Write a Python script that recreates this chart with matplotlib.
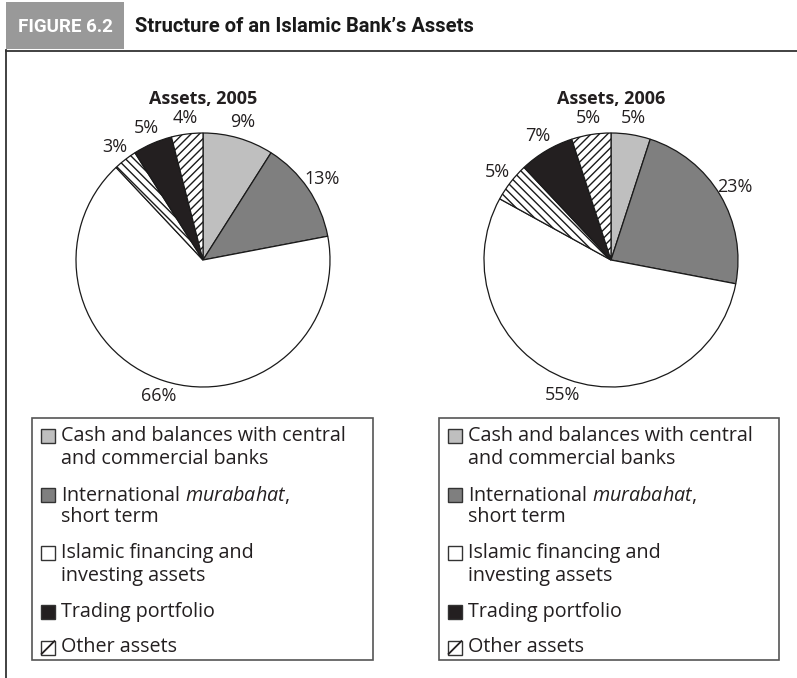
import matplotlib.pyplot as plt
from matplotlib.patches import Rectangle

plt.rcParams['font.family'] = ['Open Sans', 'DejaVu Sans']
plt.rcParams['mathtext.fontset'] = 'custom'
plt.rcParams['mathtext.rm'] = 'Open Sans'
plt.rcParams['mathtext.it'] = 'Open Sans:italic'
plt.rcParams['hatch.linewidth'] = 1.0

# data
years = ['2005', '2006']
shares_2005 = [9, 13, 66, 3, 5, 4]
shares_2006 = [5, 23, 55, 5, 7, 5]
slice_colors = ['#bfbfbf', '#7f7f7f', 'white', 'white', '#231f20', 'white']
slice_hatches = ['', '', '', '\\\\\\\\', '', '////']
legend_labels = [
    ['Cash and balances with central', 'and commercial banks'],
    ['International $\\mathit{murabahat}$,', 'short term'],
    ['Islamic financing and', 'investing assets'],
    ['Trading portfolio'],
    ['Other assets'],
]
legend_slices = [0, 1, 2, 4, 5]   # 4th slice has no legend entry

W, H = 797, 678
fig = plt.figure(figsize=(W / 100, H / 100), dpi=100)
bg = fig.add_axes([0, 0, 1, 1])
bg.set_xlim(0, W)
bg.set_ylim(H, 0)
bg.axis('off')

# header
narrow = ['Roboto', 'DejaVu Sans']
bg.add_patch(Rectangle((6, 2), 118, 47, fc='#999999', ec='none'))
bg.text(65, 27, 'FIGURE 6.2', color='white', fontweight='bold', family=narrow,
        fontsize=13.5, ha='center', va='center')
bg.text(135, 27, 'Structure of an Islamic Bank\u2019s Assets', color='#1a1a1a',
        fontweight='bold', family=narrow, fontsize=14.5, ha='left', va='center')
bg.plot([6, W], [50.5, 50.5], color='#333333', lw=1.3)
bg.plot([6.5, 6.5], [50, H], color='#333333', lw=1.3)

R = 127
S = 1.4 * R
centers = [(203, 260), (611, 260)]
boxes = [(32, 373), (439, 779)]

for k, shares in enumerate([shares_2005, shares_2006]):
    cx, cy = centers[k]
    ax = fig.add_axes([(cx - S) / W, 1 - (cy + S) / H, 2 * S / W, 2 * S / H])
    wedges, _, pcts = ax.pie(shares, colors=slice_colors, startangle=90,
                             counterclock=False,
                             wedgeprops=dict(edgecolor='#1a1a1a', linewidth=0.9),
                             autopct=lambda p: f'{p:.0f}%', pctdistance=1.13,
                             textprops=dict(fontsize=13, color='#231f20'))
    for w, h in zip(wedges, slice_hatches):
        if h:
            w.set_hatch(h)
    ax.set_xlim(-1.4, 1.4)
    ax.set_ylim(-1.4, 1.4)

    bg.text(cx, 99, 'Assets, ' + years[k], fontweight='bold', fontsize=13,
            ha='center', va='center', color='#231f20')

    # legend box
    x0, x1 = boxes[k]
    bg.add_patch(Rectangle((x0, 418), x1 - x0, 242, fc='none', ec='#555555', lw=1.2))
    y = 436
    for lines, si in zip(legend_labels, legend_slices):
        px, py = x0 + 9, y - 7
        bg.add_patch(Rectangle((px, py), 14, 14, fc=slice_colors[si],
                               ec='#333333', lw=1.0))
        if slice_hatches[si]:
            bg.plot([px, px + 14], [py + 14, py], color='#231f20', lw=1.3,
                    solid_capstyle='butt')
        for j, line in enumerate(lines):
            bg.text(x0 + 29, y + j * 22.5, line, fontsize=14.2, ha='left',
                    va='center', color='#231f20')
        y += 22.5 * len(lines) + 13.5

fig.savefig('out.png', dpi=100)
